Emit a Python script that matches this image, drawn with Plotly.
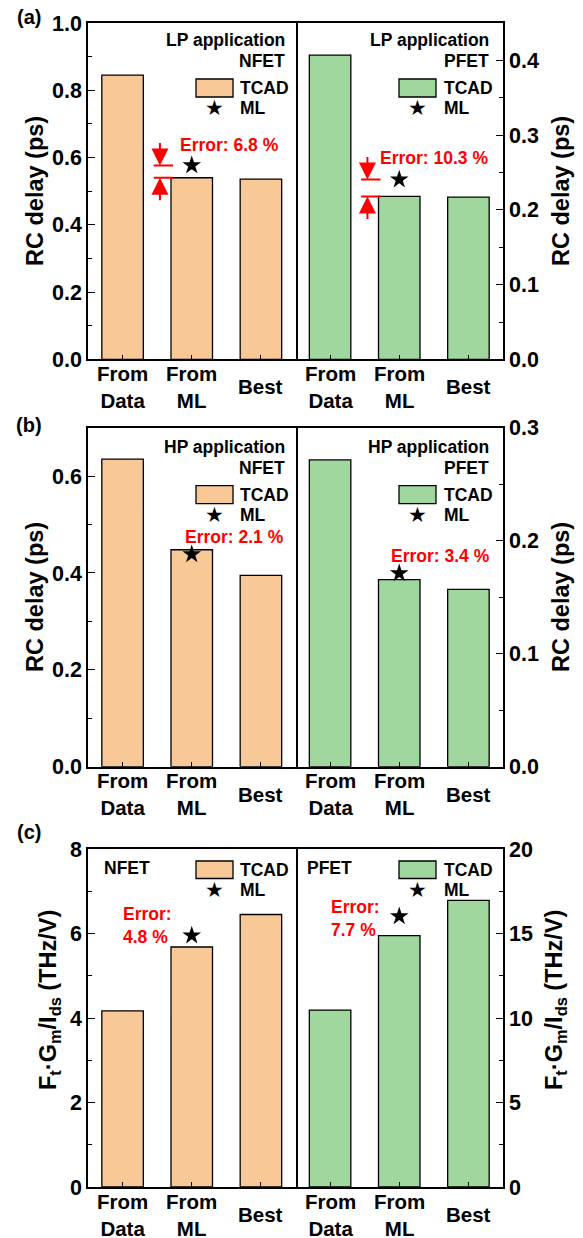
import plotly.graph_objects as go

W, H = 583, 1238

# ---------------- data ----------------
categories = ["From<br>Data", "From<br>ML", "Best"]

# RC delay (ps), LP application, TCAD
lp_nfet_tcad = [0.845, 0.540, 0.536]
lp_pfet_tcad = [0.407, 0.218, 0.217]
# RC delay (ps), HP application, TCAD
hp_nfet_tcad = [0.635, 0.448, 0.395]
hp_pfet_tcad = [0.2715, 0.1656, 0.157]
# Ft*Gm/Ids (THz/V), TCAD
ft_nfet_tcad = [4.17, 5.68, 6.45]
ft_pfet_tcad = [10.47, 14.87, 16.96]

# ML prediction for the "From ML" design point
lp_nfet_ml = 0.5767
lp_pfet_ml = 0.2405
hp_nfet_ml = 0.4386
hp_pfet_ml = 0.1712
ft_nfet_ml = 5.953
ft_pfet_ml = 16.015

ML_INDEX = 1

ORANGE = "#F9C897"
GREEN = "#9FD79E"
RED = "#FF0000"
FONT = "Liberation Sans"


def px(x):
    return x / W


def py(y):
    return 1 - y / H


def bold(size, color="black", family=FONT):
    return dict(family=family, size=size, color=color, weight="bold")


# ---------------- geometry ----------------
X_LEFT = [px(88), px(295.5)]
X_RIGHT = [px(295.5), px(503)]
PANELS_Y = {
    "a": (23, 359.4),
    "b": (427.7, 766.7),
    "c": (849, 1187),
}

fig = go.Figure()

panels = [
    ("a", lp_nfet_tcad, lp_nfet_ml, lp_pfet_tcad, lp_pfet_ml,
     dict(range=[0, 1.0], dtick=0.2, minor=0.1, fmt=".1f"),
     dict(range=[0, 0.45], dtick=0.1, minor=0.05, fmt=".1f")),
    ("b", hp_nfet_tcad, hp_nfet_ml, hp_pfet_tcad, hp_pfet_ml,
     dict(range=[0, 0.7], dtick=0.2, minor=0.1, fmt=".1f"),
     dict(range=[0, 0.3], dtick=0.1, minor=0.05, fmt=".1f")),
    ("c", ft_nfet_tcad, ft_nfet_ml, ft_pfet_tcad, ft_pfet_ml,
     dict(range=[0, 8], dtick=2, minor=1, fmt="d"),
     dict(range=[0, 20], dtick=5, minor=2.5, fmt="d")),
]

annotations = []
shapes = []

axis_idx = 0
for key, ldata, lml, rdata, rml, lcfg, rcfg in panels:
    top, bot = PANELS_Y[key]
    ydom = [py(bot), py(top)]
    for side, data, ml, color, cfg in (("left", ldata, lml, ORANGE, lcfg),
                                       ("right", rdata, rml, GREEN, rcfg)):
        axis_idx += 1
        sfx = "" if axis_idx == 1 else str(axis_idx)
        xa, ya = "x" + sfx, "y" + sfx
        fig.add_trace(go.Bar(
            x=list(range(len(categories))), y=data,
            marker=dict(color=color, line=dict(color="black", width=1.3)),
            width=0.6, xaxis=xa, yaxis=ya, showlegend=False,
            hoverinfo="y"))
        fig.add_trace(go.Scatter(
            x=[ML_INDEX], y=[ml], mode="markers",
            marker=dict(symbol="star", size=14, color="black", line=dict(width=0)),
            xaxis=xa, yaxis=ya, showlegend=False))

        fig.layout["xaxis" + sfx] = dict(
            domain=X_LEFT if side == "left" else X_RIGHT,
            anchor=ya, range=[-0.5, 2.5],
            tickvals=list(range(len(categories))), showticklabels=False,
            ticks="inside", ticklen=5, tickwidth=1.3, tickcolor="black",
            showline=True, linecolor="black", linewidth=1.5, mirror=True,
            showgrid=False, zeroline=False, fixedrange=True)
        fig.layout["yaxis" + sfx] = dict(
            domain=ydom, anchor=xa, side=side, range=cfg["range"],
            tick0=0, dtick=cfg["dtick"], tickformat=cfg["fmt"],
            ticks="inside", ticklen=7, tickwidth=1.3, tickcolor="black",
            minor=dict(ticks="inside", ticklen=4, tickwidth=1.3,
                       tickcolor="black", dtick=cfg["minor"], tick0=0),
            tickfont=bold(21.5), showline=True, linecolor="black",
            linewidth=1.5, mirror=(side == "left"),
            showgrid=False, zeroline=False,
            automargin=False, fixedrange=True)

        # category labels under the axis
        for i, cat in enumerate(categories):
            annotations.append(dict(
                x=i, xref=xa, y=py(bot + 27.5), yref="paper", text=cat,
                showarrow=False, xanchor="center", yanchor="middle",
                font=bold(20.5)))

        # relative error of the ML prediction
        t = data[ML_INDEX]
        err = abs(ml - t) / t * 100
        if key == "a":
            # bracket: red lines at ML value and at TCAD value, arrows pointing in
            for val in (ml, t):
                shapes.append(dict(type="line", xref=xa, yref=ya,
                                   x0=ML_INDEX - 0.55, x1=ML_INDEX - 0.27,
                                   y0=val, y1=val,
                                   line=dict(color=RED, width=2)))
            for val, ay in ((ml, -24), (t, 24)):
                annotations.append(dict(
                    x=ML_INDEX - 0.46, xref=xa, y=val, yref=ya, text="",
                    showarrow=True, ax=0, ay=ay, axref="pixel", ayref="pixel",
                    arrowhead=2, arrowsize=1.7, arrowwidth=2, arrowcolor=RED,
                    standoff=0, startstandoff=0))

        # legend and labels inside each half panel
        if side == "left":
            rx0, rx1, star_x, txt_x, right_x = 196, 233, 214, 238, 287
        else:
            rx0, rx1, star_x, txt_x, right_x = 399, 436, 417.5, 442, 491
        dev = "NFET" if side == "left" else "PFET"

        if key in ("a", "b"):
            app = "LP application" if key == "a" else "HP application"
            off = 0 if key == "a" else 406.7
            annotations.append(dict(x=px(right_x), y=py(40 + off), text=app,
                                    xanchor="right", yanchor="middle",
                                    font=bold(17.5)))
            annotations.append(dict(x=px(right_x), y=py(61 + off), text=dev,
                                    xanchor="right", yanchor="middle",
                                    font=bold(17.5)))
            ry0, ry1 = 79 + off, 97 + off
            ml_y = 108 + off
        else:
            dev_x = 101.7 if side == "left" else 305
            annotations.append(dict(x=px(dev_x), y=py(868.3), text=dev,
                                    xanchor="left", yanchor="middle",
                                    font=bold(17.5)))
            ry0, ry1 = 861, 878.5
            ml_y = 889.5

        shapes.append(dict(type="rect", xref="paper", yref="paper",
                           x0=px(rx0), x1=px(rx1), y0=py(ry1), y1=py(ry0),
                           fillcolor=color, line=dict(color="black", width=1.3)))
        annotations.append(dict(x=px(txt_x), y=py((ry0 + ry1) / 2), text="TCAD",
                                xanchor="left", yanchor="middle",
                                font=bold(17.5)))
        annotations.append(dict(x=px(star_x), y=py(ml_y), text="★",
                                xanchor="center", yanchor="middle",
                                font=dict(family="DejaVu Sans", size=21,
                                          color="black")))
        annotations.append(dict(x=px(txt_x), y=py(ml_y), text="ML",
                                xanchor="left", yanchor="middle",
                                font=bold(17.5)))

        # error text placement
        if key == "a":
            ex, ey = (178, 145) if side == "left" else (377.7, 158)
            annotations.append(dict(x=px(ex), y=py(ey),
                                    text=f"Error: {err:.1f} %",
                                    xanchor="left", yanchor="middle",
                                    font=bold(17.5, RED)))
        elif key == "b":
            ex, ey = (183, 536.7) if side == "left" else (389, 555.7)
            annotations.append(dict(x=px(ex), y=py(ey),
                                    text=f"Error: {err:.1f} %",
                                    xanchor="left", yanchor="middle",
                                    font=bold(17.5, RED)))
        else:
            ex, ey = (120.7, 925) if side == "left" else (329.3, 918)
            annotations.append(dict(x=px(ex), y=py(ey),
                                    text=f"Error:<br>{err:.1f} %",
                                    xanchor="left", yanchor="middle", align="left",
                                    font=bold(17.5, RED)))

# panel tags
for tag, y in (("(a)", 17), ("(b)", 425), ("(c)", 832)):
    annotations.append(dict(x=px(29), y=py(y), text=tag, xanchor="center",
                            yanchor="middle", font=bold(20)))

# axis titles
rc_title = "RC delay (ps)"
ft_title = "F<sub>t</sub>·G<sub>m</sub>/I<sub>ds</sub> (THz/V)"
for text, x, y in ((rc_title, 35, 191), (rc_title, 561, 191),
                   (rc_title, 35, 597), (rc_title, 561, 597),
                   (ft_title, 50, 1000), (ft_title, 556, 1000)):
    annotations.append(dict(x=px(x), y=py(y), text=text, textangle=-90,
                            xanchor="center", yanchor="middle",
                            font=bold(23.5)))

for a in annotations:
    a.setdefault("showarrow", False)
    a.setdefault("xref", "paper")
    a.setdefault("yref", "paper")

fig.update_layout(
    width=W, height=H, autosize=False,
    margin=dict(l=0, r=0, t=0, b=0, pad=0),
    paper_bgcolor="white", plot_bgcolor="white",
    showlegend=False, bargap=0.4,
    annotations=annotations, shapes=shapes,
    font=dict(family=FONT, color="black"),
)

fig.write_html("out.html")
